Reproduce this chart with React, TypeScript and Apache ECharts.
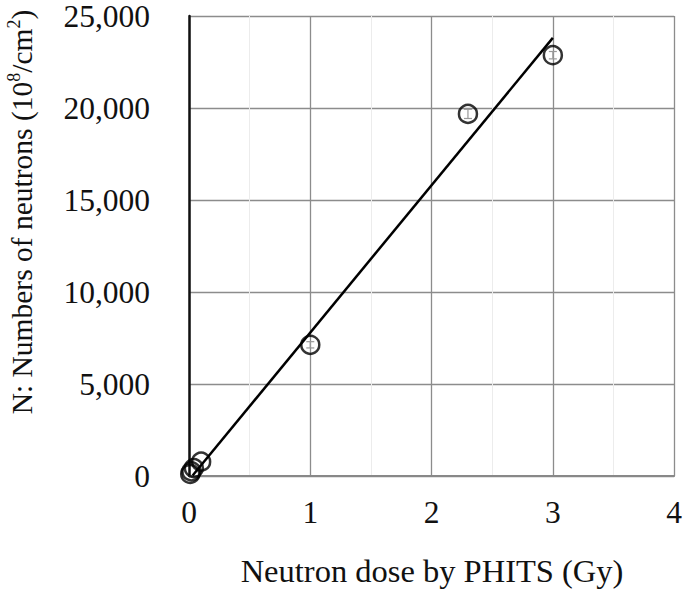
import React, { useEffect, useRef } from "react";
import * as echarts from "echarts";

const doseGy = [0.01, 0.02, 0.04, 0.1, 1.0, 2.3, 3.0];
const neutrons = [110, 250, 430, 780, 7130, 19680, 22870];
const errorHalf = [0, 0, 0, 0, 170, 250, 200];
const trendX = [0.03, 3.0];
const trendY = [30, 23810];
const xTicks = [0, 1, 2, 3, 4];
const yTicks = [0, 5000, 10000, 15000, 20000, 25000];

const FONT = "'Liberation Serif', 'Times New Roman', serif";

export default function App() {
  const ref = useRef<HTMLDivElement>(null);
  useEffect(() => {
    if (!ref.current) return;
    const chart = echarts.init(ref.current, null, { renderer: "svg" });
    const points = doseGy.map((x, i) => [x, neutrons[i]]);
    const errs = doseGy
      .map((x, i) => [x, neutrons[i] - errorHalf[i], neutrons[i] + errorHalf[i]])
      .filter((_, i) => errorHalf[i] > 0);
    chart.setOption({
      animation: false,
      backgroundColor: "#fff",
      grid: { left: 189, right: 9, top: 14, bottom: 116, containLabel: false },
      xAxis: {
        type: "value",
        min: xTicks[0],
        max: xTicks[xTicks.length - 1],
        interval: 1,
        axisLine: { show: true, onZero: false, lineStyle: { color: "#888", width: 2 } },
        axisTick: { show: false },
        axisLabel: { fontFamily: FONT, fontSize: 31.5, color: "#111", margin: 20 },
        splitLine: { show: true, lineStyle: { color: "#8c8c8c", width: 1.3 } },
        minorTick: { show: false, splitNumber: 2 },
        minorSplitLine: { show: true, lineStyle: { color: "#ececec", width: 1 } },
      },
      yAxis: {
        type: "value",
        min: yTicks[0],
        max: yTicks[yTicks.length - 1],
        interval: 5000,
        axisLine: { show: true, onZero: false, lineStyle: { color: "#111", width: 2.5 } },
        axisTick: { show: false },
        axisLabel: {
          fontFamily: FONT,
          fontSize: 31.5,
          color: "#111",
          margin: 39,
          formatter: (v: number) => v.toLocaleString("en-US"),
        },
        splitLine: { show: true, lineStyle: { color: "#8c8c8c", width: 1.3 } },
      },
      graphic: [
        {
          type: "text",
          x: 432,
          y: 571,
          style: {
            text: "Neutron dose by PHITS (Gy)",
            font: `32.5px ${FONT}`,
            fill: "#111",
            align: "center",
            verticalAlign: "middle",
          },
        },
        {
          type: "text",
          x: 20,
          y: 212,
          rotation: Math.PI / 2,
          style: {
            text: "{m|N: Numbers of neutrons (10}{s|8}{m|/cm}{s|2}{m|)}",
            align: "center",
            verticalAlign: "middle",
            fill: "#111",
            rich: {
              m: { fontFamily: FONT, fontSize: 29.5, fill: "#111", lineHeight: 34, verticalAlign: "bottom" },
              s: { fontFamily: FONT, fontSize: 18, fill: "#111", lineHeight: 34, verticalAlign: "bottom", padding: [0, 0, 14, 0] },
            },
          },
        },
      ],
      series: [
        {
          type: "custom",
          renderItem: (params: any, api: any) => {
            const x = api.value(0);
            const lo = api.coord([x, api.value(1)]);
            const hi = api.coord([x, api.value(2)]);
            const w = 4;
            const st = { stroke: "#999", lineWidth: 1.2 };
            return {
              type: "group",
              children: [
                { type: "line", shape: { x1: lo[0], y1: lo[1], x2: hi[0], y2: hi[1] }, style: st },
                { type: "line", shape: { x1: lo[0] - w, y1: lo[1], x2: lo[0] + w, y2: lo[1] }, style: st },
                { type: "line", shape: { x1: hi[0] - w, y1: hi[1], x2: hi[0] + w, y2: hi[1] }, style: st },
              ],
            };
          },
          data: errs,
          z: 1,
        },
        {
          type: "line",
          data: trendX.map((x, i) => [x, trendY[i]]),
          symbol: "none",
          lineStyle: { color: "#000", width: 2.5 },
          z: 2,
        },
        {
          type: "scatter",
          data: points,
          symbol: "circle",
          symbolSize: 18,
          itemStyle: { color: "rgba(0,0,0,0)", borderColor: "#000", borderWidth: 2.5 },
          z: 3,
        },
      ],
    });
    return () => chart.dispose();
  }, []);
  return <div ref={ref} style={{ width: 685, height: 592, position: "absolute", left: 0, top: 0 }} />;
}
